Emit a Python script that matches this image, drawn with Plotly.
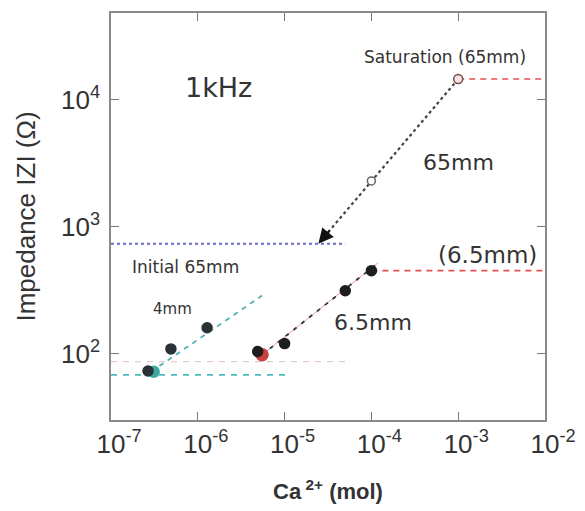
import plotly.graph_objects as go
import math

# ---- data ----
sat_x = [1e-3]; sat_y = [14600]                      # saturation 65mm (open)
mid65_x = [1e-4]; mid65_y = [2300]                   # 65mm intermediate (open)
path65_x = [1e-3, 2.45e-5]; path65_y = [14600, 735]  # dotted path to arrow tip
init65_x = [1e-7, 5e-5]; init65_y = [735, 735]       # initial 65mm level
sat65_x = [1e-3, 1e-2]; sat65_y = [14600, 14600]     # saturation 65mm level

mm65_x = [4.9e-6, 1e-5, 5e-5, 1e-4]                  # 6.5mm points
mm65_y = [104, 120, 313, 451]
mm65_red_x = [5.5e-6]; mm65_red_y = [98]
mm65_fit_x = [5.5e-6, 1.2e-4]; mm65_fit_y = [98, 520]
mm65_sat_x = [1e-4, 1e-2]; mm65_sat_y = [451, 451]
mm65_init_x = [1e-7, 5e-5]; mm65_init_y = [86.5, 86.5]

mm4_x = [2.67e-7, 4.9e-7, 1.28e-6]                   # 4mm points
mm4_y = [73, 109, 160]
mm4_teal_x = [3.1e-7]; mm4_teal_y = [72]
mm4_fit_x = [2.9e-7, 5.5e-6]; mm4_fit_y = [72, 287]
mm4_init_x = [1e-7, 1.15e-5]; mm4_init_y = [68, 68]

x_ticks = [1e-7, 1e-6, 1e-5, 1e-4, 1e-3, 1e-2]
x_ticktext = ["10<sup>-7</sup>", "10<sup>-6</sup>", "10<sup>-5</sup>",
              "10<sup>-4</sup>", "10<sup>-3</sup>", "10<sup>-2</sup>"]
y_ticks = [1e2, 1e3, 1e4]
y_ticktext = ["10<sup>2</sup>", "10<sup>3</sup>", "10<sup>4</sup>"]

fig = go.Figure()

def line(x, y, color, dash, width=1.6):
    fig.add_trace(go.Scatter(x=x, y=y, mode="lines", showlegend=False,
                             line=dict(color=color, dash=dash, width=width),
                             hoverinfo="skip"))

def pts(x, y, color, size=10, symbol="circle", lc=None):
    fig.add_trace(go.Scatter(x=x, y=y, mode="markers", showlegend=False,
                             marker=dict(color=color, size=size, symbol=symbol,
                                         line=dict(color=lc or color, width=1.5))))

# reference levels
line(init65_x, init65_y, "#6b6bc8", "3px,3px", 2.2)
line(mm65_init_x, mm65_init_y, "#e6cccc", "6px,6px", 1.4)
line(mm4_init_x, mm4_init_y, "#4fb8c0", "6px,6px", 1.6)
line(sat65_x, sat65_y, "#e45050", "6px,5px", 1.6)
line(mm65_sat_x, mm65_sat_y, "#e45050", "6px,5px", 1.6)

# trend lines
line(path65_x, path65_y, "#444444", "dot", 2.2)
line(mm65_fit_x, mm65_fit_y, "#f0a0a0", "solid", 1)
line(mm65_fit_x, mm65_fit_y, "#333333", "4px,6px", 1.8)
line(mm4_fit_x, mm4_fit_y, "#55b0b0", "5px,5px", 1.8)

# markers
pts(mm4_teal_x, mm4_teal_y, "#3aa8a0", 11)
pts(mm4_x, mm4_y, "#2a3236", 10)
pts(mm65_red_x, mm65_red_y, "#c84040", 12)
pts(mm65_x, mm65_y, "#1e1e1e", 10)
pts(mid65_x, mid65_y, "white", 8, "circle", "#666666")
pts(sat_x, sat_y, "#f4e6e6", 9, "circle", "#7a4a4a")

lg = math.log10
txt_color = "#333333"
def text(t, x, y, size, family="DejaVu Sans"):
    fig.add_annotation(text=t, x=x, y=y, xref="x", yref="y", showarrow=False,
                       font=dict(size=size, color=txt_color, family=family))

text("1kHz", -5.756, 4.094, 27)
text("Saturation (65mm)", -3.152, 4.339, 17)
text("65mm", -3.0, 3.504, 22)
text("Initial 65mm", -6.147, 2.685, 17)
text("4mm", -6.286, 2.354, 15)
text("6.5mm", -3.982, 2.244, 22)
text("(6.5mm)", -2.657, 2.78, 23)

# arrow head at the end of the 65mm path
fig.add_annotation(x=lg(path65_x[1]), y=lg(path65_y[1]), xref="x", yref="y",
                   ax=lg(3.4e-5), ay=lg(960), axref="x", ayref="y",
                   showarrow=True, arrowhead=2, arrowsize=1.5, arrowwidth=2,
                   arrowcolor="#111111", text="", standoff=0)

axis_common = dict(type="log", showgrid=False, zeroline=False, showline=True,
                   linecolor="#8a8a8a", linewidth=1.5, mirror="ticks",
                   ticks="inside", ticklen=8, tickwidth=1.3, tickcolor="#777777",
                   automargin=False,
                   tickfont=dict(family="Liberation Sans", size=26, color=txt_color))

# the page body adds an 8px offset (left/top), so the figure is 8px smaller
fig.update_layout(
    width=577, height=503,
    margin=dict(l=103, r=40, t=5, b=91),
    paper_bgcolor="white", plot_bgcolor="white",
    xaxis=dict(axis_common, range=[-7, -2], tickvals=x_ticks, ticktext=x_ticktext,
               ticklabelshift=8, ticklabelstandoff=0,
               title=dict(text="<b>Ca<sup> 2+</sup> (mol)</b>", standoff=26,
                          font=dict(family="Liberation Sans", size=22, color=txt_color))),
    yaxis=dict(axis_common, range=[lg(30), lg(48400)], tickvals=y_ticks, ticktext=y_ticktext,
               ticklabelstandoff=4,
               title=dict(text="Impedance IZI (Ω)", standoff=18,
                          font=dict(family="Liberation Sans", size=26, color=txt_color))),
)

fig.write_html("out.html")
